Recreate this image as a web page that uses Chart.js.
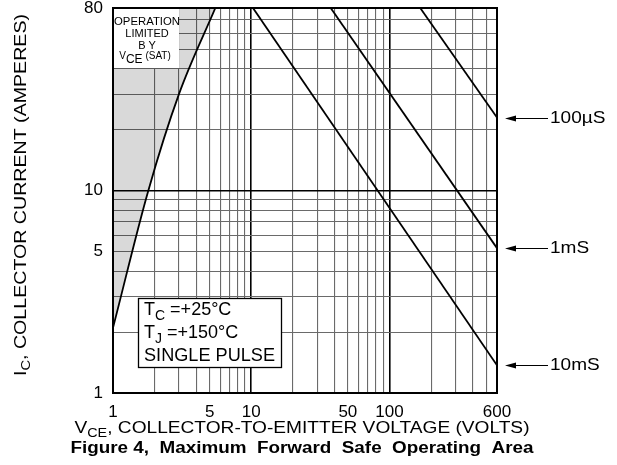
<!DOCTYPE html>
<html>
<head>
<meta charset="utf-8">
<script src="https://cdn.jsdelivr.net/npm/chart.js@4.4.1/dist/chart.umd.min.js"></script>
<style>
  html, body { margin: 0; padding: 0; background: #fff; }
  #wrap { width: 617px; height: 465px; }
</style>
</head>
<body>
<div id="wrap"><canvas id="soa" width="617" height="465"></canvas></div>
<script>
// Grid / tick values
const xGrid = [1, 2, 3, 4, 5, 6, 7, 8, 9, 10, 20, 30, 40, 50, 60, 70, 80, 90, 100, 200, 300, 400, 500, 600];
const xLabels = [1, 5, 10, 50, 100, 600];
const yGrid = [1, 2, 3, 4, 5, 6, 7, 8, 9, 10, 20, 30, 40, 50, 60, 70, 80];
const yLabels = [1, 5, 10, 80];

// VCE(SAT) limit curve
const satV = [1, 1.8, 3, 5.5];
const satI = [2.1, 10, 30, 80];

// Pulse limit lines
const p100usV = [167, 600];
const p100usI = [80, 23];
const p1msV = [37.6, 600];
const p1msI = [80, 5.2];
const p10msV = [10.3, 600];
const p10msI = [80, 1.37];

const pulseNames = ['100µS', '1mS', '10mS'];

const FONT = '"Liberation Sans", Arial, Helvetica, sans-serif';

const pts = (xs, ys) => xs.map((x, i) => ({ x: x, y: ys[i] }));
const isDecade = v => Math.abs(Math.log10(v) - Math.round(Math.log10(v))) < 1e-6;
const hasLabel = (list, v) => list.some(l => Math.abs(l - v) < 1e-6);

// Draw text made of parts: [text, kind, size] where kind is 'sub' or undefined
function drawRich(ctx, parts, x, y, opts) {
    const size = opts.size;
    const weight = opts.weight || 'normal';
    const sizeOf = p => p[2] || (p[1] === 'sub' ? Math.round(size * 0.75) : size);
    const fontFor = p => `${weight} ${sizeOf(p)}px ${FONT}`;
    let w = 0;
    parts.forEach(p => { ctx.font = fontFor(p); w += ctx.measureText(p[0]).width; });
    const sx = opts.width ? opts.width / w : (opts.stretch || 1);
    ctx.save();
    ctx.translate(x, y);
    if (opts.rotate) ctx.rotate(opts.rotate);
    ctx.scale(sx, 1);
    let cx = opts.align === 'center' ? -w / 2 : (opts.align === 'right' ? -w : 0);
    ctx.textBaseline = 'middle';
    ctx.textAlign = 'left';
    ctx.fillStyle = '#000';
    parts.forEach(p => {
        ctx.font = fontFor(p);
        const dy = p[1] === 'sub' ? size * 0.32 : 0;
        ctx.fillText(p[0], cx, dy);
        cx += ctx.measureText(p[0]).width;
    });
    ctx.restore();
}

const decorPlugin = {
    id: 'decor',
    afterDatasetsDraw(chart) {
        const ctx = chart.ctx;
        const a = chart.chartArea;
        const ys = chart.scales.y;

        // "Operation limited" box
        ctx.save();
        ctx.fillStyle = '#fff';
        ctx.fillRect(a.left + 1, a.top + 1, 65, 59);
        ctx.restore();
        drawRich(ctx, [['OPERATION']], a.left + 34, a.top + 14, { size: 11, align: 'center', width: 66 });
        drawRich(ctx, [['LIMITED']], a.left + 34, a.top + 26, { size: 11, align: 'center' });
        drawRich(ctx, [['B Y']], a.left + 34, a.top + 38, { size: 11, align: 'center' });
        drawRich(ctx, [['V', null, 10], ['CE', 'sub', 12], [' (SAT)', null, 10]], a.left + 32, a.top + 48, { size: 11, align: 'center' });

        // Conditions box
        ctx.save();
        ctx.fillStyle = '#fff';
        ctx.strokeStyle = '#000';
        ctx.lineWidth = 1.3;
        ctx.fillRect(138, 298, 143, 69);
        ctx.strokeRect(138.5, 298.5, 143, 69);
        ctx.restore();
        drawRich(ctx, [['T'], ['C', 'sub'], [' =+25°C']], 144, 310, { size: 18 });
        drawRich(ctx, [['T'], ['J', 'sub'], [' =+150°C']], 144, 333, { size: 18 });
        drawRich(ctx, [['SINGLE PULSE']], 144, 356, { size: 18, width: 131 });

        // Pulse arrows on the right
        const ends = [p100usI, p1msI, p10msI];
        ends.forEach((arr, i) => {
            const y = Math.round(ys.getPixelForValue(arr[arr.length - 1])) + 0.5;
            const x0 = a.right + 8;
            ctx.save();
            ctx.strokeStyle = '#000';
            ctx.fillStyle = '#000';
            ctx.lineWidth = 1.2;
            ctx.beginPath();
            ctx.moveTo(x0 + 8, y);
            ctx.lineTo(x0 + 43, y);
            ctx.stroke();
            ctx.beginPath();
            ctx.moveTo(x0, y);
            ctx.lineTo(x0 + 11, y - 3);
            ctx.lineTo(x0 + 11, y + 3);
            ctx.closePath();
            ctx.fill();
            ctx.restore();
            drawRich(ctx, [[pulseNames[i]]], x0 + 45, y, { size: 17, stretch: 1.12 });
        });

        // Plot frame
        ctx.save();
        ctx.strokeStyle = '#000';
        ctx.lineWidth = 2;
        ctx.strokeRect(a.left, a.top, a.right - a.left, a.bottom - a.top);
        ctx.restore();
    },
    afterDraw(chart) {
        const ctx = chart.ctx;
        drawRich(ctx, [['I'], ['C', 'sub'], [', COLLECTOR CURRENT (AMPERES)']], 22, 195,
            { size: 16, align: 'center', rotate: -Math.PI / 2, width: 362 });
        drawRich(ctx, [['V'], ['CE', 'sub'], [', COLLECTOR-TO-EMITTER VOLTAGE (VOLTS)']], 302, 429,
            { size: 16, align: 'center', width: 455 });
        drawRich(ctx, [['Figure 4,  Maximum  Forward  Safe  Operating  Area']], 302, 449,
            { size: 16, weight: 'bold', align: 'center', width: 463 });
    }
};

const gridStyle = {
    color: c => (c.tick && isDecade(c.tick.value)) ? '#000' : '#6a6a6a',
    lineWidth: c => (c.tick && isDecade(c.tick.value)) ? 1.6 : 1.1,
    drawTicks: false
};

const line = (xs, ys, extra) => Object.assign({
    data: pts(xs, ys),
    showLine: true,
    borderColor: '#000',
    borderWidth: 1.8,
    pointRadius: 0,
    fill: false
}, extra || {});

new Chart(document.getElementById('soa'), {
    type: 'scatter',
    data: {
        datasets: [
            line(satV, satI, { fill: 'end', backgroundColor: 'rgba(0,0,0,0.15)', cubicInterpolationMode: 'monotone' }),
            line(p100usV, p100usI),
            line(p1msV, p1msI),
            line(p10msV, p10msI)
        ]
    },
    options: {
        responsive: false,
        animation: false,
        layout: { padding: { top: 8, right: 120, left: 0, bottom: 0 } },
        plugins: { legend: { display: false }, tooltip: { enabled: false } },
        scales: {
            x: {
                type: 'logarithmic',
                min: 1,
                max: 600,
                afterBuildTicks: s => { s.ticks = xGrid.map(v => ({ value: v })); },
                afterFit: s => { s.height = 72; s.paddingLeft = 0; s.paddingRight = 0; },
                ticks: {
                    autoSkip: false,
                    maxRotation: 0,
                    padding: 9,
                    color: '#000',
                    font: { family: FONT, size: 17 },
                    callback: v => hasLabel(xLabels, v) ? String(v) : ''
                },
                grid: gridStyle,
                border: { display: false }
            },
            y: {
                type: 'logarithmic',
                min: 1,
                max: 80,
                afterBuildTicks: s => { s.ticks = yGrid.map(v => ({ value: v })); },
                afterFit: s => { s.width = 113; s.paddingTop = 0; s.paddingBottom = 0; },
                ticks: {
                    autoSkip: false,
                    padding: 10,
                    color: '#000',
                    font: { family: FONT, size: 17 },
                    callback: v => hasLabel(yLabels, v) ? String(v) : ''
                },
                grid: gridStyle,
                border: { display: false }
            }
        }
    },
    plugins: [decorPlugin]
});
</script>
</body>
</html>
